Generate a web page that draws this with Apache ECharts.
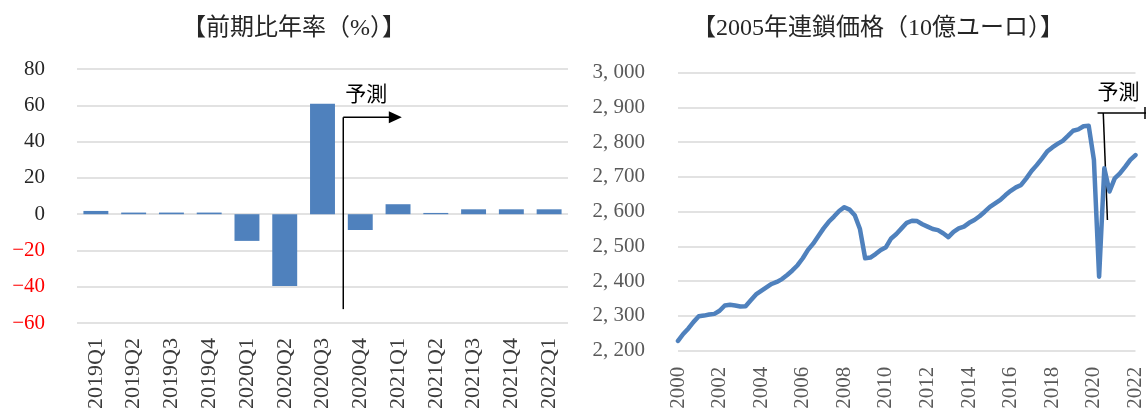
<!DOCTYPE html>
<html>
<head>
<meta charset="utf-8">
<script src="https://cdn.jsdelivr.net/npm/echarts@6/dist/echarts.min.js"></script>
<style>
  html, body { margin: 0; padding: 0; background: #fff; }
  #chart { width: 1146px; height: 412px; }
</style>
</head>
<body>
<div id="chart"></div>
<script>
// left panel: annualised q/q growth (%)
const quarters = ['2019Q1', '2019Q2', '2019Q3', '2019Q4', '2020Q1', '2020Q2', '2020Q3',
  '2020Q4', '2021Q1', '2021Q2', '2021Q3', '2021Q4', '2022Q1'];
const growthRate = [1.8, 0.9, 0.9, 0.9, -14.7, -39.5, 60.8, -8.7, 5.5, 0.7, 2.7, 2.7, 2.7];

// right panel: chain-linked level, 2000Q1 .. 2022Q1 (bn euro)
const levelYears = [2000, 2001, 2002, 2003, 2004, 2005, 2006, 2007, 2008, 2009, 2010, 2011,
  2012, 2013, 2014, 2015, 2016, 2017, 2018, 2019, 2020, 2021, 2022];
const gdpLevel = [
  2228, 2248, 2264, 2283, 2299, 2301, 2304, 2306, 2315, 2330, 2332, 2330,
  2327, 2328, 2345, 2362, 2372, 2382, 2392, 2398, 2406, 2418, 2431, 2446,
  2466, 2490, 2508, 2530, 2552, 2571, 2586, 2602, 2613, 2606, 2590, 2550,
  2466, 2468, 2478, 2490, 2498, 2523, 2536, 2552, 2568, 2574, 2573, 2564,
  2557, 2550, 2547, 2538, 2527, 2542, 2552, 2557, 2568, 2576, 2587, 2600,
  2614, 2624, 2634, 2648, 2660, 2670, 2677, 2696, 2717, 2734, 2753, 2773,
  2785, 2795, 2804, 2818, 2833, 2837, 2846, 2847, 2749, 2413, 2725, 2658,
  2696, 2710, 2729, 2749, 2763
];

const levelQuarters = [];
levelYears.forEach(function (y) {
  ['Q1', 'Q2', 'Q3', 'Q4'].forEach(function (q) { levelQuarters.push(y + q); });
});
levelQuarters.length = gdpLevel.length;

const serif = "'Liberation Serif', 'Noto Sans CJK JP', serif";
const titleFont = "'Liberation Serif', 'Noto Sans CJK JP', sans-serif";
const barBlue = '#4F81BD';
const gridGray = '#d9d9d9';

const chart = echarts.init(document.getElementById('chart'));

chart.setOption({
  animation: false,
  backgroundColor: '#fff',
  grid: [
    { left: 77, right: 578, top: 69, bottom: 86 },
    { left: 678, right: 10, top: 72.7, bottom: 61.3 }
  ],
  xAxis: [
    {
      gridIndex: 0,
      type: 'category',
      data: quarters,
      axisLine: { show: false },
      axisTick: { show: false },
      axisLabel: {
        rotate: 90,
        margin: 15,
        interval: 0,
        fontSize: 22,
        fontFamily: serif,
        color: '#3a3a3a'
      }
    },
    {
      gridIndex: 1,
      type: 'category',
      data: levelQuarters,
      boundaryGap: false,
      axisLine: { show: false },
      axisTick: { show: false },
      axisLabel: {
        rotate: 90,
        margin: 16,
        interval: 7,
        fontSize: 21,
        fontFamily: serif,
        color: '#595959',
        formatter: function (v) { return v.slice(0, 4); }
      }
    }
  ],
  yAxis: [
    {
      gridIndex: 0,
      type: 'value',
      min: -60,
      max: 80,
      interval: 20,
      axisLine: { show: false },
      axisTick: { show: false },
      splitLine: { lineStyle: { color: gridGray, width: 1.5 } },
      axisLabel: {
        margin: 32,
        fontSize: 21,
        fontFamily: serif,
        color: function (v) { return Number(v) < 0 ? '#ff0000' : '#262626'; },
        formatter: function (v) { return v < 0 ? '\u2212' + Math.abs(v) : String(v); }
      }
    },
    {
      gridIndex: 1,
      type: 'value',
      min: 2200,
      max: 3000,
      interval: 100,
      axisLine: { show: false },
      axisTick: { show: false },
      splitLine: { lineStyle: { color: gridGray, width: 1.5 } },
      axisLabel: {
        margin: 33,
        fontSize: 21,
        fontFamily: serif,
        color: '#595959',
        formatter: function (v) { return String(v).replace(/\B(?=(\d{3})+(?!\d))/g, ', '); }
      }
    }
  ],
  series: [
    {
      type: 'bar',
      xAxisIndex: 0,
      yAxisIndex: 0,
      data: growthRate,
      barCategoryGap: '34%',
      itemStyle: { color: barBlue }
    },
    {
      type: 'line',
      xAxisIndex: 1,
      yAxisIndex: 1,
      data: gdpLevel,
      showSymbol: false,
      lineStyle: { color: barBlue, width: 4.5, join: 'round', cap: 'round' }
    }
  ]
});

// position along a category axis, allowing fractional indices
function pt(gridIndex, idx, val) {
  const i0 = Math.floor(idx);
  const f = idx - i0;
  const a = chart.convertToPixel({ gridIndex: gridIndex }, [i0, val]);
  const b = chart.convertToPixel({ gridIndex: gridIndex }, [i0 + 1, val]);
  return [a[0] + (b[0] - a[0]) * f, a[1]];
}

const blk = { stroke: '#000', lineWidth: 1.5 };

// left "forecast" marker, between 2020Q3 and 2020Q4
const lTop = pt(0, 6.55, 53.4);
const lBot = pt(0, 6.55, -52.3);
const lEnd = pt(0, 8.1, 53.4);

// right "forecast" marker, slightly slanted
const rTop = pt(1, 81.8, 2884);
const rBot = pt(1, 82.6, 2576);
const rStart = pt(1, 80.7, 2884);

chart.setOption({
  graphic: [
    {
      type: 'text', x: 294, y: 29,
      style: { text: '【前期比年率（%）】', fontSize: 24, fontFamily: titleFont,
        fill: '#262626', align: 'center', verticalAlign: 'middle' }
    },
    {
      type: 'text', x: 878, y: 29,
      style: { text: '【2005年連鎖価格（10億ユーロ）】', fontSize: 24, fontFamily: titleFont,
        fill: '#262626', align: 'center', verticalAlign: 'middle' }
    },
    { type: 'line', shape: { x1: lTop[0], y1: lTop[1], x2: lBot[0], y2: lBot[1] }, style: blk },
    { type: 'line', shape: { x1: lTop[0], y1: lTop[1], x2: lEnd[0] - 12, y2: lTop[1] }, style: blk },
    {
      type: 'polygon',
      shape: { points: [[lEnd[0] - 13, lTop[1] - 6], [lEnd[0], lTop[1]], [lEnd[0] - 13, lTop[1] + 6]] },
      style: { fill: '#000' }
    },
    {
      type: 'text', x: lTop[0] + 2, y: lTop[1] - 22,
      style: { text: '予測', fontSize: 21, fontFamily: titleFont, fill: '#000',
        align: 'left', verticalAlign: 'middle' }
    },
    { type: 'line', shape: { x1: rTop[0], y1: rTop[1], x2: rBot[0], y2: rBot[1] }, style: blk },
    { type: 'line', shape: { x1: rStart[0], y1: rTop[1], x2: 1160, y2: rTop[1] }, style: blk },
    { type: 'line', shape: { x1: 1145, y1: rTop[1] - 6, x2: 1145, y2: rTop[1] + 6 }, style: blk },
    {
      type: 'text', x: rStart[0], y: rTop[1] - 20,
      style: { text: '予測', fontSize: 21, fontFamily: titleFont, fill: '#000',
        align: 'left', verticalAlign: 'middle' }
    }
  ]
});

window.addEventListener('resize', function () { chart.resize(); });
</script>
</body>
</html>
